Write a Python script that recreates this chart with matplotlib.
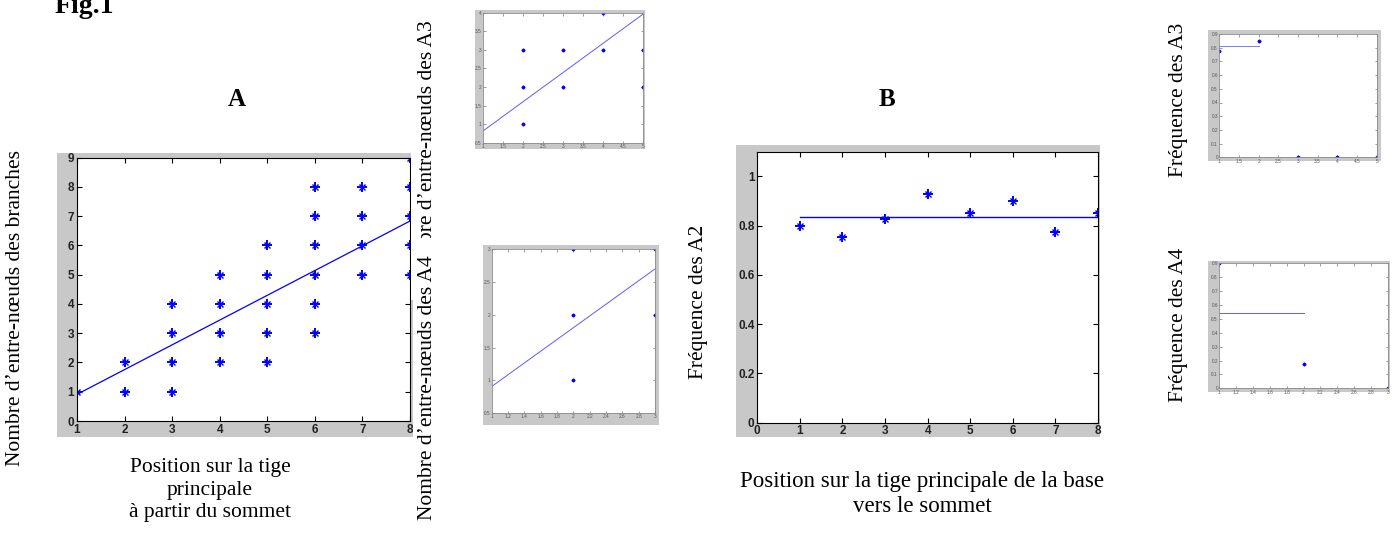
import matplotlib
matplotlib.use('Agg')
import matplotlib.pyplot as plt
from matplotlib.patches import Rectangle

W, H = 1397, 540

# ---------------- data ----------------
# Panel A : internodes of branches vs position (from top)
a_x = [1, 2, 2, 3, 3, 3, 3, 4, 4, 4, 4, 5, 5, 5, 5, 5, 6, 6, 6, 6, 6, 6, 7, 7, 7, 7, 8, 8, 8, 8, 8]
a_y = [1, 1, 2, 1, 2, 3, 4, 2, 3, 4, 5, 2, 3, 4, 5, 6, 3, 4, 5, 6, 7, 8, 5, 6, 7, 8, 5, 6, 7, 8, 9]
a_fit_x = [1, 8]
a_fit_y = [0.91, 6.83]

# Inset A3
a3_x = [2, 2, 2, 3, 3, 4, 4, 5, 5]
a3_y = [1, 2, 3, 2, 3, 3, 4, 2, 3]
a3_fit_x = [1, 5]
a3_fit_y = [0.81, 3.96]

# Inset A4
a4_x = [2, 2, 2, 3, 3]
a4_y = [1, 2, 3, 2, 3]
a4_fit_x = [1, 3]
a4_fit_y = [0.905, 2.70]

# Panel B : frequency of A2
b_x = [1, 2, 3, 4, 5, 6, 7, 8]
b_y = [0.80, 0.752, 0.826, 0.927, 0.853, 0.900, 0.775, 0.853]
b_mean_x = [1, 8]
b_mean_y = [0.836, 0.836]

# Inset frequency A3
f3_x = [1, 2, 3, 4, 5]
f3_y = [0.775, 0.85, 0.0, 0.0, 0.0]
f3_mean_x = [1, 2]
f3_mean_y = [0.815, 0.815]

# Inset frequency A4
f4_x = [1, 2, 3]
f4_y = [0.90, 0.175, 0.0]
f4_mean_x = [1, 2]
f4_mean_y = [0.54, 0.54]

# ---------------- figure ----------------
fig = plt.figure(figsize=(W / 100, H / 100), dpi=100)
fig.patch.set_facecolor('white')

SERIF = ['Liberation Serif', 'DejaVu Serif']
SANS = ['Liberation Sans', 'DejaVu Sans']
GRAY = '#c8c8c8'


def px_axes(l, t, r, b):
    return fig.add_axes([l / W, 1 - b / H, (r - l) / W, (b - t) / H])


def gray_rect(l, t, r, b, color=GRAY, z=-1):
    fig.patches.append(Rectangle((l / W, 1 - b / H), (r - l) / W, (b - t) / H,
                                 transform=fig.transFigure, facecolor=color,
                                 edgecolor='none', zorder=z))


def ftext(x, y, s, **kw):
    return fig.text(x / W, 1 - y / H, s, **kw)


def asterisks(ax, x, y, big=True):
    # MATLAB-like '*' marker: a '+' and an 'x' drawn on top of each other
    if big:
        ax.plot(x, y, linestyle='none', marker='+', color='blue', markersize=7.5, mew=1.4)
        ax.plot(x, y, linestyle='none', marker='x', color='blue', markersize=4.5, mew=1.0)
    else:
        ax.plot(x, y, linestyle='none', marker='+', color='blue', markersize=3, mew=0.9)
        ax.plot(x, y, linestyle='none', marker='x', color='blue', markersize=2, mew=0.7)


def style(ax, main=True):
    ax.set_facecolor('white')
    for sp in ax.spines.values():
        sp.set_color('black' if main else '#8a8a8a')
        sp.set_linewidth(0.8 if main else 0.6)
    ax.tick_params(direction='in', top=True, right=True,
                   length=3.5 if main else 1.8,
                   width=0.8 if main else 0.5,
                   pad=2 if main else 1,
                   labelsize=8.5 if main else 3.4,
                   labelcolor='#222222' if main else '#555555',
                   color='black' if main else '#777777')
    for lab in ax.get_xticklabels() + ax.get_yticklabels():
        lab.set_fontfamily(SANS)
        if main:
            lab.set_fontweight('bold')


# gray MATLAB figure backgrounds
gray_rect(57, 153, 413, 437)
gray_rect(475, 10, 645, 149)
gray_rect(482.7, 245, 659, 425)
gray_rect(736, 145, 1100, 437)
gray_rect(1208, 30, 1381, 161)
gray_rect(1208, 261, 1390, 392)

# ---- Panel A ----
axA = px_axes(77, 157.5, 410, 421)
asterisks(axA, a_x, a_y)
axA.plot(a_fit_x, a_fit_y, color='blue', lw=0.9)
axA.set_xlim(1, 8)
axA.set_ylim(0, 9)
axA.set_xticks(range(1, 9))
axA.set_yticks(range(0, 10))
style(axA)

# ---- Inset A3 ----
axA3 = px_axes(482.7, 12.7, 643, 142.7)
asterisks(axA3, a3_x, a3_y, big=False)
axA3.plot(a3_fit_x, a3_fit_y, color='#5b5bff', lw=0.7)
axA3.set_xlim(1, 5)
axA3.set_ylim(0.5, 4)
axA3.set_xticks([1, 1.5, 2, 2.5, 3, 3.5, 4, 4.5, 5])
axA3.set_xticklabels(['1', '1.5', '2', '2.5', '3', '3.5', '4', '4.5', '5'])
axA3.set_yticks([0.5, 1, 1.5, 2, 2.5, 3, 3.5, 4])
axA3.set_yticklabels(['0.5', '1', '1.5', '2', '2.5', '3', '3.5', '4'])
style(axA3, main=False)

# ---- Inset A4 ----
axA4 = px_axes(491.7, 249.3, 655, 413)
asterisks(axA4, a4_x, a4_y, big=False)
axA4.plot(a4_fit_x, a4_fit_y, color='#5b5bff', lw=0.7)
axA4.set_xlim(1, 3)
axA4.set_ylim(0.5, 3)
axA4.set_xticks([1, 1.2, 1.4, 1.6, 1.8, 2, 2.2, 2.4, 2.6, 2.8, 3])
axA4.set_xticklabels(['1', '1.2', '1.4', '1.6', '1.8', '2', '2.2', '2.4', '2.6', '2.8', '3'])
axA4.set_yticks([0.5, 1, 1.5, 2, 2.5, 3])
axA4.set_yticklabels(['0.5', '1', '1.5', '2', '2.5', '3'])
style(axA4, main=False)

# ---- Panel B ----
axB = px_axes(757.3, 151.7, 1098, 422.7)
asterisks(axB, b_x, b_y)
axB.plot(b_mean_x, b_mean_y, color='blue', lw=1.0)
axB.set_xlim(0, 8)
axB.set_ylim(0, 1.1)
axB.set_xticks(range(0, 9))
axB.set_yticks([0, 0.2, 0.4, 0.6, 0.8, 1])
axB.set_yticklabels(['0', '0.2', '0.4', '0.6', '0.8', '1'])
style(axB)

# ---- Inset freq A3 ----
axF3 = px_axes(1219.3, 34, 1376.7, 157.3)
asterisks(axF3, f3_x, f3_y, big=False)
axF3.plot(f3_mean_x, f3_mean_y, color='#7a7aff', lw=0.7)
axF3.set_xlim(1, 5)
axF3.set_ylim(0, 0.9)
axF3.set_xticks([1, 1.5, 2, 2.5, 3, 3.5, 4, 4.5, 5])
axF3.set_xticklabels(['1', '1.5', '2', '2.5', '3', '3.5', '4', '4.5', '5'])
axF3.set_yticks([0, 0.1, 0.2, 0.3, 0.4, 0.5, 0.6, 0.7, 0.8, 0.9])
axF3.set_yticklabels(['0', '0.1', '0.2', '0.3', '0.4', '0.5', '0.6', '0.7', '0.8', '0.9'])
style(axF3, main=False)

# ---- Inset freq A4 ----
axF4 = px_axes(1219.3, 263.3, 1387.7, 388.3)
asterisks(axF4, f4_x, f4_y, big=False)
axF4.plot(f4_mean_x, f4_mean_y, color='#5b5bff', lw=0.7)
axF4.set_xlim(1, 3)
axF4.set_ylim(0, 0.9)
axF4.set_xticks([1, 1.2, 1.4, 1.6, 1.8, 2, 2.2, 2.4, 2.6, 2.8, 3])
axF4.set_xticklabels(['1', '1.2', '1.4', '1.6', '1.8', '2', '2.2', '2.4', '2.6', '2.8', '3'])
axF4.set_yticks([0, 0.1, 0.2, 0.3, 0.4, 0.5, 0.6, 0.7, 0.8, 0.9])
axF4.set_yticklabels(['0', '0.1', '0.2', '0.3', '0.4', '0.5', '0.6', '0.7', '0.8', '0.9'])
style(axF4, main=False)

# ---------------- texts ----------------
ftext(55, 13, 'Fig.1', family=SERIF, fontsize=20, fontweight='bold', ha='left', va='baseline')
ftext(237, 100, 'A', family=SERIF, fontsize=18, fontweight='bold', ha='center', va='center')
ftext(887, 100, 'B', family=SERIF, fontsize=18, fontweight='bold', ha='center', va='center')

ftext(16, 308, 'Nombre d’entre-nœuds des branches', family=SERIF, fontsize=15.5,
      rotation=90, ha='center', va='center')
ftext(210, 490, 'Position sur la tige\nprincipale\nà partir du sommet', family=SERIF,
      fontsize=15.5, ha='center', va='center', linespacing=1.25, multialignment='center')

# inset A labels, with the white boxes that hide what lies behind them
gray_rect(411, 0, 470, 300, color='white', z=2)
ftext(428, 20, 'Nombre d’entre-nœuds des A3', family=SERIF, fontsize=15.5,
      rotation=90, ha='center', va='top', zorder=3)
gray_rect(413, 238, 470, 540, color='white', z=3.5)
ftext(428, 520, 'Nombre d’entre-nœuds des A4', family=SERIF, fontsize=15.5,
      rotation=90, ha='center', va='bottom', zorder=4)

ftext(698, 302, 'Fréquence des A2', family=SERIF, fontsize=15.5,
      rotation=90, ha='center', va='center')
ftext(922, 494, 'Position sur la tige principale de la base\nvers le sommet', family=SERIF,
      fontsize=16.5, ha='center', va='center', linespacing=1.2, multialignment='center')

ftext(1178, 100, 'Fréquence des A3', family=SERIF, fontsize=15.5,
      rotation=90, ha='center', va='center')
ftext(1178, 325, 'Fréquence des A4', family=SERIF, fontsize=15.5,
      rotation=90, ha='center', va='center')

fig.savefig('out.png', dpi=100, facecolor='white')
